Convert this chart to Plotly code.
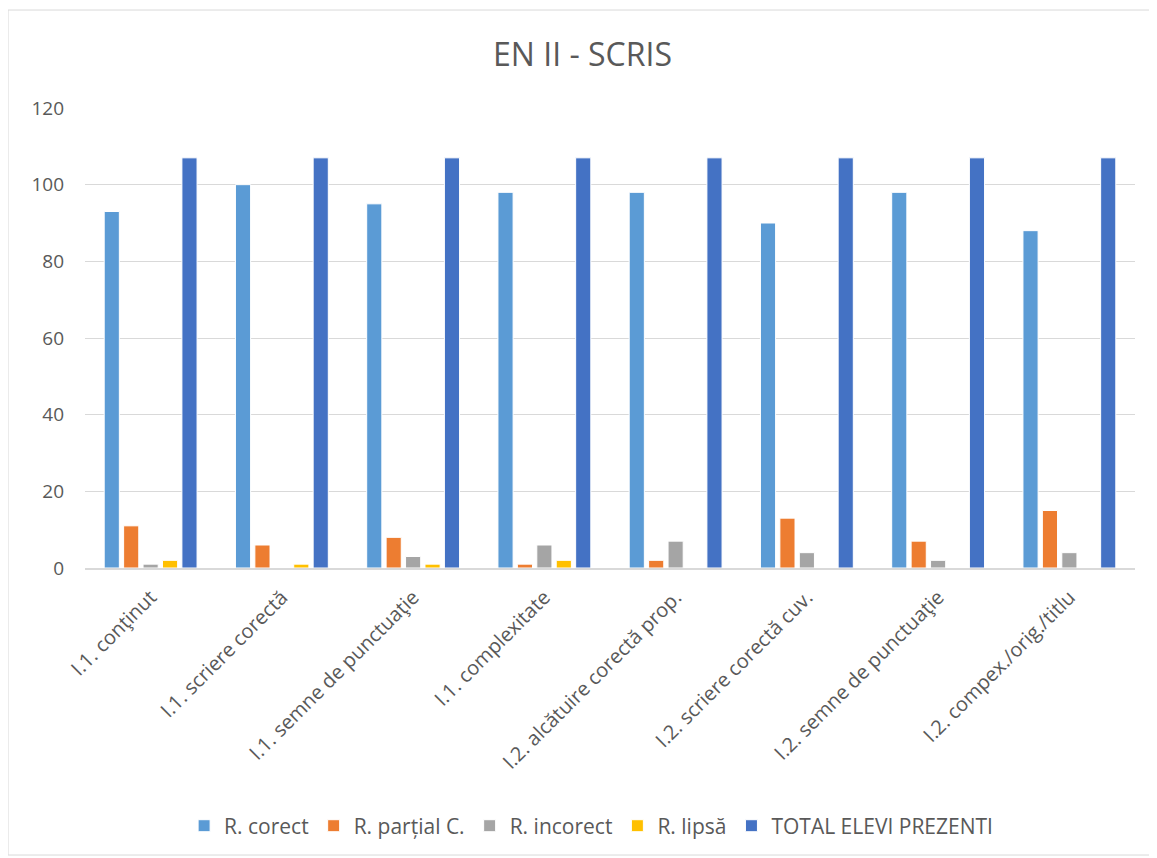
import plotly.graph_objects as go

categories = [
    "I.1. conţinut",
    "I.1. scriere corectă",
    "I.1. semne de punctuaţie",
    "I.1. complexitate",
    "I.2. alcătuire corectă prop.",
    "I.2. scriere corectă cuv.",
    "I.2. semne de punctuaţie",
    "I.2. compex./orig./titlu",
]
r_corect = [93, 100, 95, 98, 98, 90, 98, 88]
r_partial = [11, 6, 8, 1, 2, 13, 7, 15]
r_incorect = [1, 0, 3, 6, 7, 4, 2, 4]
r_lipsa = [2, 1, 1, 2, 0, 0, 0, 0]
total_elevi = [107, 107, 107, 107, 107, 107, 107, 107]

series = [
    ("R. corect", r_corect, "#5b9bd5"),
    ("R. parțial C.", r_partial, "#ed7d31"),
    ("R. incorect", r_incorect, "#a5a5a5"),
    ("R. lipsă", r_lipsa, "#ffc000"),
    ("TOTAL ELEVI PREZENTI", total_elevi, "#4472c4"),
]

fig = go.Figure()
for name, vals, color in series:
    fig.add_trace(go.Bar(
        x=categories, y=vals, name=name,
        marker=dict(color=color, line=dict(color="white", width=1)),
    ))

# page body has an 8px margin, so the figure is slightly smaller than the window
fig.update_layout(
    width=1149, height=850,
    paper_bgcolor="white", plot_bgcolor="white",
    font=dict(family="Open Sans, Noto Sans, sans-serif", color="#595959", size=19),
    title=dict(text="EN II - SCRIS", x=0.5, xanchor="center", y=0.945, yanchor="middle",
               font=dict(size=32, color="#595959")),
    margin=dict(l=77, r=22, t=100, b=290),
    barmode="group", bargap=0.26, bargroupgap=0.22,
    legend=dict(orientation="h", x=0.482, xanchor="center", y=-0.561, yanchor="middle",
                font=dict(size=21), traceorder="normal"),
    showlegend=True,
)
fig.update_yaxes(range=[0, 120], dtick=20, gridcolor="#d9d9d9", gridwidth=1,
                 zeroline=False, showline=False, ticks="", tickfont=dict(size=19),
                 ticklabelstandoff=20)
fig.update_xaxes(tickangle=-45, showline=True, linecolor="#d9d9d9", linewidth=1.5,
                 ticks="", tickfont=dict(size=20), ticklabelstandoff=8)
fig.add_shape(type="rect", xref="paper", yref="paper",
              x0=-0.0733, x1=1.0143, y0=-0.624, y1=1.213,
              line=dict(color="#d9d9d9", width=1))

fig.write_html("out.html")
